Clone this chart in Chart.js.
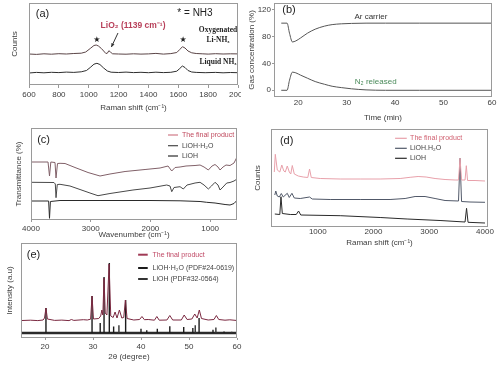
<!DOCTYPE html>
<html>
<head>
<meta charset="utf-8">
<script src="https://cdn.jsdelivr.net/npm/chart.js@4.4.1/dist/chart.umd.min.js"></script>
<style>
  body { margin: 0; background: #fff; width: 500px; height: 365px; position: relative; overflow: hidden; }
  canvas { position: absolute; }
</style>
</head>
<body>
<canvas id="pa" width="241" height="118" style="left:0;top:0"></canvas>
<canvas id="pb" width="257" height="125" style="left:243px;top:0"></canvas>
<canvas id="pc" width="243" height="122" style="left:0;top:120px"></canvas>
<canvas id="pd" width="257" height="130" style="left:243px;top:120px"></canvas>
<canvas id="pe" width="243" height="130" style="left:0;top:235px"></canvas>
<script>
// ---- (a) Raman of NH3 solutions ----
const oxyShift = [600,650,700,750,800,850,900,950,980,1010,1035,1050,1065,1085,1100,1115,1125,1135,1145,1160,1200,1250,1300,1350,1400,1450,1500,1550,1590,1610,1628,1645,1665,1690,1720,1760,1800,1850,1900,1950,2000];
const oxyCounts = [31.0,30.6,31.2,30.8,31.3,31.0,31.5,31.8,33.0,36.5,39.5,40.0,39.0,36.5,34.0,31.5,31.8,34.3,33.0,31.2,31.0,30.8,31.2,30.9,31.1,31.6,30.9,31.4,32.5,35.5,38.3,37.0,34.0,32.2,31.5,31.2,30.9,31.3,31.0,31.2,31.1];
const liqShift = [600,650,700,750,800,850,900,950,985,1010,1035,1055,1075,1100,1125,1150,1200,1250,1300,1350,1400,1450,1500,1550,1590,1610,1627,1645,1665,1690,1720,1780,1850,1900,1950,2000];
const liqCounts = [12.0,12.6,12.2,12.7,12.4,12.9,12.6,13.2,14.5,17.5,20.8,21.7,20.5,17.0,14.0,12.8,12.5,12.9,12.4,12.7,12.3,12.8,12.4,12.7,13.8,16.5,19.0,17.5,14.5,13.0,12.6,12.3,12.6,12.2,12.5,12.3];
const ticksA = [600,800,1000,1200,1400,1600,1800,2000];

// ---- (b) gas concentration ----
const timeMin = [16.5,17.7,18.2,18.8,19.5,20.5,21.9,23.5,25.4,27,28.9,31,34,38,45,60];
const arCarrier = [100,100,85,72,73.5,78,85,91,95.5,97.8,99,99.6,100,100,100,100];
const n2Released = [0,0,15,27,26,22.5,18,13,9,6,4,2.2,0.6,0,0,0];
const ticksBx = [20,30,40,50,60];
const ticksBy = [0,40,80,120];

// ---- (c) FTIR ----
const finalWn = [3983,3715,3690,3668,3598,3581,3556,3514,3430,3263,3045,2844,2677,2425,2090,1839,1705,1643,1588,1504,1404,1253,1169,1102,1030,968,918,868,834,784,734,667,600,550];
const finalT = [58,58,44,58,57.5,42,56.5,56.7,56.5,52.5,47.5,44,46,48.5,50.5,52,54,49,52.5,53,54,54.5,55,53,50,54,55.5,53,50,53,55,54.5,57,63];
const hydrWn = [3983,3615,3593,3581,3560,3514,3347,3179,3012,2878,2677,2292,2007,1727,1672,1643,1605,1504,1449,1387,1337,1253,1169,1102,1030,977,918,868,834,784,722,667,600,550];
const hydrT = [37.7,37.5,36,22.3,35.5,35.7,34,30.5,27,24.3,26.5,30,32,35,34,28.3,32.5,33.3,31,35,35.7,37,37.7,35,31,34,37.7,35,30,33,37,37.5,39,41];
const lohWn = [3983,3705,3690,3675,3514,2844,2007,1504,1169,1057,918,750,667,600,550];
const lohT = [19,19,1.7,18.5,19.5,19.5,19.5,19.2,18.5,17.7,17,15.5,15,16.5,19.7];
const ticksC = [4000,3000,2000,1000];

// ---- (d) Raman of solids ----
const finalRs = [219,237,273,318,354,390,416,452,488,515,542,578,649,739,820,852,883,1044,1402,1761,2119,2478,2657,2800,2944,3105,3284,3464,3526,3553,3580,3643,3666,3688,3822,4001];
const finalCounts = [55,72.7,57,55,62,56,55,61,55,53,61.5,53,51,50,49.5,58,49.5,48.5,48,48,48,48.5,49.7,50.5,50,48.5,47.5,47,47,68.7,47,47,61.3,46.5,46.5,46];
const hydrRs = [228,246,273,309,345,380,452,488,536,578,685,852,900,1223,1761,2297,2567,2746,2925,3105,3284,3526,3553,3580,3732,4001];
const hydrCounts = [32,36,31,30,33.5,30,33.7,29.5,33.7,29,28.5,30,28,27.5,27.5,27.5,28.5,30.5,30.5,28.5,26.5,26,68.7,25.5,25,24.7];
const lohRs = [228,318,339,363,506,613,655,694,1402,2119,2603,3194,3643,3670,3697,4001];
const lohCounts = [13,12.5,30.3,13.5,12.5,12.5,16,12,11.3,9.5,8,6.5,5,18.7,4.7,4];
const ticksD = [1000,2000,3000,4000];

// ---- (e) XRD ----
const prodTheta = [15.2,17,18.5,19.6,19.9,20.2,20.5,22,23.5,25,25.5,26,28,28.8,29.5,29.8,30.1,31.2,31.6,31.85,32.05,32.3,32.55,32.9,33.35,33.7,34.2,34.6,35.0,35.5,36.0,36.4,36.75,37.1,38.5,39.7,40.2,40.7,41.5,42.8,43.3,43.8,45.4,46.0,46.6,48.4,49.0,49.6,50.6,51.2,51.7,52.15,52.6,54,55.2,55.7,56.2,57.5,58.5,60];
const prodI = [17.5,17.8,17.4,18,20,30,19,17.6,17.9,17.4,18.5,17.6,18.3,18,18.8,42,19,19.5,22,28,23,60,25,23,74,22,20.5,26,20,28,20,20.5,38,19.5,18,18.5,21.5,18.3,18.5,17.8,21.5,17.8,18,22.5,18,18,23,18.5,19,24,20,28,19.5,18,18.5,22.5,18.5,17.8,18.2,17.5];
const hydrPdfTheta = [20.2,29.8,31.5,32.3,33.4,34.3,36.8,40.0,41.2,43.4,46.0,48.9,50.8,52.1,55.0,57.3];
const hydrPdfI = [30,42,15,61,75,11.5,38,9.3,7.8,9.3,11.7,11,10,20,8.3,6.6];
const lohPdfTheta = [35.4,51.3,55.6,58.9];
const lohPdfI = [12.7,12.7,10.6,6.3];
const stickBase = 5;
const ticksE = [20,30,40,50,60];

Chart.defaults.font.family = '"Liberation Sans", Arial, sans-serif';
Chart.defaults.font.size = 8;
Chart.defaults.color = '#3c3c3c';

function pts(xs, ys) {
    return xs.map((x, i) => ({x: x, y: ys[i]}));
}

function sticks(xs, hs) {
    const out = [];
    xs.forEach((x, i) => {
        out.push({x: x, y: stickBase}, {x: x, y: hs[i]}, {x: x, y: null});
    });
    return out;
}

function line(label, data, color, width, smooth) {
    return {
        label: label,
        data: data,
        borderColor: color,
        borderWidth: width || 1,
        pointRadius: 0,
        fill: false,
        cubicInterpolationMode: smooth ? 'monotone' : 'default',
        tension: 0
    };
}

// box around the plot area
const framePlugin = {
    id: 'frame',
    afterDraw(c) {
        const a = c.chartArea, ctx = c.ctx;
        ctx.save();
        ctx.strokeStyle = '#9a9a9a';
        ctx.lineWidth = 1;
        ctx.strokeRect(a.left + 0.5, a.top + 0.5, a.right - a.left - 1, a.bottom - a.top - 1);
        ctx.restore();
    }
};

// text labels and arrows, placed in data coordinates
function notes(list) {
    return {
        id: 'notes',
        afterDatasetsDraw(c) {
            const ctx = c.ctx, xs = c.scales.x, ys = c.scales.y;
            list.forEach(n => {
                ctx.save();
                if (n.arrow) {
                    const x1 = xs.getPixelForValue(n.arrow[0]), y1 = ys.getPixelForValue(n.arrow[1]);
                    const x2 = xs.getPixelForValue(n.arrow[2]), y2 = ys.getPixelForValue(n.arrow[3]);
                    const ang = Math.atan2(y2 - y1, x2 - x1);
                    ctx.strokeStyle = '#333';
                    ctx.fillStyle = '#333';
                    ctx.lineWidth = 1;
                    ctx.beginPath();
                    ctx.moveTo(x1, y1);
                    ctx.lineTo(x2, y2);
                    ctx.stroke();
                    ctx.beginPath();
                    ctx.moveTo(x2, y2);
                    ctx.lineTo(x2 - 4 * Math.cos(ang - 0.45), y2 - 4 * Math.sin(ang - 0.45));
                    ctx.lineTo(x2 - 4 * Math.cos(ang + 0.45), y2 - 4 * Math.sin(ang + 0.45));
                    ctx.closePath();
                    ctx.fill();
                } else {
                    ctx.font = n.font || '8px "Liberation Sans", Arial';
                    ctx.fillStyle = n.color || '#333';
                    ctx.textAlign = n.align || 'center';
                    ctx.textBaseline = 'middle';
                    ctx.fillText(n.text, xs.getPixelForValue(n.x), ys.getPixelForValue(n.y));
                }
                ctx.restore();
            });
        }
    };
}

// small legend inside the plot: dataset label + its colour
function key(k) {
    return {
        id: 'key',
        afterDatasetsDraw(c) {
            const ctx = c.ctx, xs = c.scales.x, ys = c.scales.y;
            const x0 = xs.getPixelForValue(k.x0), x1 = xs.getPixelForValue(k.x1), xt = xs.getPixelForValue(k.xt);
            k.items.forEach(it => {
                const ds = c.data.datasets[it.ds];
                const y = ys.getPixelForValue(it.y);
                ctx.save();
                ctx.strokeStyle = it.line || ds.borderColor;
                ctx.lineWidth = k.width || 1.2;
                ctx.beginPath();
                ctx.moveTo(x0, y);
                ctx.lineTo(x1, y);
                ctx.stroke();
                ctx.font = '7px "Liberation Sans", Arial';
                ctx.fillStyle = it.color || '#444';
                ctx.textAlign = 'left';
                ctx.textBaseline = 'middle';
                ctx.fillText(ds.label, xt, y);
                ctx.restore();
            });
        }
    };
}

function panel(id, datasets, p, extra) {
    const el = document.getElementById(id);
    const W = el.width, H = el.height;
    const [L, T, R, B] = p.area;
    return new Chart(el, {
        type: 'line',
        data: {datasets: datasets},
        options: {
            responsive: false,
            animation: false,
            devicePixelRatio: 1,
            layout: {padding: {left: 0, top: T, right: W - R, bottom: 0}},
            plugins: {legend: {display: false}, tooltip: {enabled: false}},
            scales: {
                x: {
                    type: 'linear',
                    min: p.xMin,
                    max: p.xMax,
                    reverse: !!p.reverse,
                    afterBuildTicks: s => { s.ticks = p.xTicks.map(v => ({value: v})); },
                    ticks: {callback: v => String(v), padding: p.xPad, maxRotation: 0, autoSkip: false},
                    grid: {drawOnChartArea: false, drawTicks: p.xTick > 0, tickLength: p.xTick, color: '#999'},
                    border: {display: false},
                    title: {display: true, text: p.xTitle, padding: {top: 0, bottom: p.xTitlePad}},
                    afterFit: s => { s.height = H - B; s.paddingLeft = 0; s.paddingRight = 0; }
                },
                y: {
                    min: p.yMin,
                    max: p.yMax,
                    afterBuildTicks: s => { if (p.yTicks) s.ticks = p.yTicks.map(v => ({value: v})); },
                    ticks: {display: !!p.yTicks, callback: v => String(v), padding: 1},
                    grid: {display: !!p.yTicks, drawOnChartArea: false, tickLength: 2, color: '#999'},
                    border: {display: false},
                    title: {display: true, text: p.yTitle, padding: {top: p.yTitlePad, bottom: 0}},
                    afterFit: s => { s.width = L; s.paddingTop = 0; s.paddingBottom = 0; }
                }
            }
        },
        plugins: [framePlugin].concat(extra)
    });
}

// (a)
panel('pa', [
    line('Oxygenated Li-NH₃', pts(oxyShift, oxyCounts), '#5a4446', 1),
    line('Liquid NH₃', pts(liqShift, liqCounts), '#2e2e2e', 1)
], {
    area: [29, 3, 238, 85], xMin: 600, xMax: 2000, xTicks: ticksA, xPad: 2, xTick: 3,
    xTitle: 'Raman shift (cm⁻¹)', xTitlePad: 5, yMin: 0, yMax: 82, yTitle: 'Counts', yTitlePad: 10
}, [notes([
    {x: 690, y: 71, text: '(a)', font: '11px "Liberation Sans", Arial', color: '#222'},
    {x: 1712, y: 72, text: '* = NH3', font: '10px "Liberation Sans", Arial', color: '#222'},
    {x: 1297, y: 59, text: 'LiO₂ (1139 cm⁻¹)', font: 'bold 8.5px "Liberation Sans", Arial', color: '#b8405a'},
    {x: 1866, y: 55, text: 'Oxygenated', font: 'bold 7.5px "Liberation Serif", serif', color: '#222'},
    {x: 1866, y: 45, text: 'Li-NH₃', font: 'bold 7.5px "Liberation Serif", serif', color: '#222'},
    {x: 1866, y: 23, text: 'Liquid NH₃', font: 'bold 7.5px "Liberation Serif", serif', color: '#222'},
    {x: 1055, y: 45, text: '★', font: '8px "DejaVu Sans"', color: '#222'},
    {x: 1632, y: 45, text: '★', font: '8px "DejaVu Sans"', color: '#222'},
    {arrow: [1196, 52, 1152, 38]}
])]);

// (b)
panel('pb', [
    line('Ar carrier', pts(timeMin, arCarrier), '#555', 1, true),
    line('N₂ released', pts(timeMin, n2Released), '#555', 1, true)
], {
    area: [31, 3, 249, 97], xMin: 15, xMax: 60, xTicks: ticksBx, xPad: 1, xTick: 0,
    xTitle: 'Time (min)', xTitlePad: 2, yMin: -10, yMax: 130, yTicks: ticksBy,
    yTitle: 'Gas concentration (%)', yTitlePad: 4
}, [notes([
    {x: 18.1, y: 119.5, text: '(b)', font: '11px "Liberation Sans", Arial', color: '#222'},
    {x: 35, y: 109, text: 'Ar carrier', font: '8px "Liberation Sans", Arial', color: '#333'},
    {x: 36, y: 12.4, text: 'N₂ released', font: '8px "Liberation Sans", Arial', color: '#4a8a5a'}
])]);

// (c)
panel('pc', [
    line('The final product', pts(finalWn, finalT), '#806068', 1),
    line('LiOH·H₂O', pts(hydrWn, hydrT), '#484848', 1),
    line('LiOH', pts(lohWn, lohT), '#2a2a2a', 1)
], {
    area: [31, 8, 237, 100], xMin: 550, xMax: 4000, reverse: true, xTicks: ticksC, xPad: 1.5, xTick: 2,
    xTitle: 'Wavenumber (cm⁻¹)', xTitlePad: 2, yMin: 0, yMax: 92, yTitle: 'Transmittance (%)', yTitlePad: 14
}, [notes([
    {x: 3790, y: 80, text: '(c)', font: '11px "Liberation Sans", Arial', color: '#222'}
]), key({x0: 1706, x1: 1538, xt: 1471, items: [
    {ds: 0, y: 85, color: '#c04a5e', line: '#d07a88'},
    {ds: 1, y: 74.3},
    {ds: 2, y: 64}
]})]);

// (d)
panel('pd', [
    line('The final product', pts(finalRs, finalCounts), '#e8a0aa', 1),
    line('LiOH.H₂O', pts(hydrRs, hydrCounts), '#505868', 1),
    line('LiOH', pts(lohRs, lohCounts), '#2a2a2a', 1)
], {
    area: [28, 9, 245, 107], xMin: 160, xMax: 4055, xTicks: ticksD, xPad: 0, xTick: 0,
    xTitle: 'Raman shift (cm⁻¹)', xTitlePad: 2, yMin: 0, yMax: 98, yTitle: 'Counts', yTitlePad: 10
}, [notes([
    {x: 440, y: 86, text: '(d)', font: '11px "Liberation Sans", Arial', color: '#222'}
]), key({x0: 2387, x1: 2597, xt: 2657, items: [
    {ds: 0, y: 88.7, color: '#d06070'},
    {ds: 1, y: 78.7},
    {ds: 2, y: 68.7}
]})]);

// (e)
panel('pe', [
    line('The final product', pts(prodTheta, prodI), '#7a2840', 1),
    line('LiOH·H₂O (PDF#24-0619)', sticks(hydrPdfTheta, hydrPdfI), '#1c1c1c', 1.4),
    line('LiOH (PDF#32-0564)', sticks(lohPdfTheta, lohPdfI), '#333', 1.4),
    line('', pts([15, 60], [stickBase, stickBase]), '#2a2a2a', 2.5)
], {
    area: [21, 8, 237, 103], xMin: 15, xMax: 60, xTicks: ticksE, xPad: 2, xTick: 2,
    xTitle: '2θ (degree)', xTitlePad: 3.5, yMin: 0, yMax: 95, yTitle: 'Intensity (a.u)', yTitlePad: 5
}, [notes([
    {x: 17.6, y: 83.3, text: '(e)', font: '11px "Liberation Sans", Arial', color: '#222'}
]), key({x0: 39.4, x1: 41.4, xt: 42.4, width: 2, items: [
    {ds: 0, y: 83.3, color: '#c04a66', line: '#a03a55'},
    {ds: 1, y: 70},
    {ds: 2, y: 59}
]})]);
</script>
</body>
</html>
